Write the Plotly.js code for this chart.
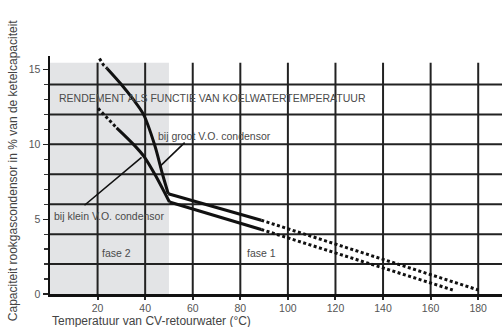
<!DOCTYPE html>
<html>
<head>
<meta charset="utf-8">
<script src="https://cdn.plot.ly/plotly-3.0.1.min.js"></script>
<style>html,body{margin:0;padding:0;background:#fff;}#chart{width:502px;height:327px;}</style>
</head>
<body>
<div id="chart"></div>
<script>
// ---- data ----
const grootDotX = [20.8, 22.5, 24.0];
const grootDotY = [15.73, 15.3, 15.07];
const grootCurveX = [24.0, 30.0, 35.0, 39.3, 43.9, 47.3, 49.7];
const grootCurveY = [15.07, 14.0, 13.0, 12.0, 10.0, 8.0, 6.7];
const grootLineX = [49.7, 88.8];
const grootLineY = [6.7, 4.93];
const grootTailX = [88.8, 180];
const grootTailY = [4.93, 0.27];

const kleinDotX = [20.2, 28.0];
const kleinDotY = [12.4, 11.1];
const kleinCurveX = [28.0, 35.5, 39.7, 44.3, 50.2];
const kleinCurveY = [11.1, 9.93, 9.15, 7.93, 6.15];
const kleinLineX = [50.2, 88.8];
const kleinLineY = [6.15, 4.31];
const kleinTailX = [88.8, 169.3];
const kleinTailY = [4.31, 0.27];

const grootLeaderX = [56.6, 46.0];
const grootLeaderY = [10.11, 8.49];
const kleinLeaderX = [14.5, 38.5];
const kleinLeaderY = [5.93, 9.13];

const xTicks = [20, 40, 60, 80, 100, 120, 140, 160, 180];
const yTicks = [0, 5, 10, 15];
const yGrid = [2, 4, 6, 8, 10, 12, 14];
const phaseBoundary = 50;
const gridTop = 15.45;

const titleText = 'RENDEMENT ALS FUNCTIE VAN KOELWATERTEMPERATUUR';
const grootLabel = 'bij groot V.O. condensor';
const kleinLabel = 'bij klein V.O. condensor';
const fase2Label = 'fase 2';
const fase1Label = 'fase 1';
const xTitle = 'Temperatuur van CV-retourwater (°C)';
const yTitle = 'Capaciteit rookgascondensor in % van de ketelcapaciteit';

// ---- chart ----
const FONT = 'Liberation Sans, Arial, sans-serif';
const solid = {color: '#111', width: 3};
const curve = {color: '#111', width: 3, shape: 'spline', smoothing: 0.9};
const dotted = {color: '#111', width: 3, dash: '3px,2.5px'};
const leader = {color: '#111', width: 1.6};

function tr(x, y, line) {
  return {x: x, y: y, mode: 'lines', line: line, hoverinfo: 'skip', showlegend: false, cliponaxis: false};
}

const traces = [
  tr(grootDotX, grootDotY, dotted),
  tr(grootCurveX, grootCurveY, curve),
  tr(grootLineX, grootLineY, solid),
  tr(grootTailX, grootTailY, dotted),
  tr(kleinDotX, kleinDotY, dotted),
  tr(kleinCurveX, kleinCurveY, curve),
  tr(kleinLineX, kleinLineY, solid),
  tr(kleinTailX, kleinTailY, dotted),
  tr(grootLeaderX, grootLeaderY, leader),
  tr(kleinLeaderX, kleinLeaderY, leader)
];

const shapes = [{
  type: 'rect', xref: 'x', yref: 'y', x0: 0, x1: phaseBoundary, y0: 0, y1: gridTop,
  fillcolor: '#e3e4e6', line: {width: 0}, layer: 'below'
}];
xTicks.forEach(v => shapes.push({
  type: 'line', xref: 'x', yref: 'y', x0: v, x1: v, y0: 0, y1: gridTop,
  line: {color: '#222', width: 2}, layer: 'below'
}));
yGrid.forEach(v => shapes.push({
  type: 'line', xref: 'x', yref: 'y', x0: 0, x1: 190, y0: v, y1: v,
  line: {color: '#222', width: 2}, layer: 'below'
}));

const txt = (text, x, y, anchor, size) => ({
  text: text, x: x, y: y, xref: 'x', yref: 'y', xanchor: anchor, yanchor: 'middle',
  showarrow: false, font: {family: FONT, size: size, color: '#4a4a4a'}
});

const annotations = [
  txt(titleText, 3.0, 13.07, 'left', 10.5),
  txt(grootLabel, 44.6, 10.55, 'left', 10.5),
  txt(kleinLabel, 1.0, 5.2, 'left', 10.5),
  txt(fase2Label, 28, 2.75, 'center', 10.5),
  txt(fase1Label, 89, 2.73, 'center', 10.5),
  {text: xTitle, xref: 'paper', yref: 'paper', x: 0, y: -0.113, xanchor: 'left', yanchor: 'middle',
   showarrow: false, font: {family: FONT, size: 12, color: '#444'}},
  {text: yTitle, xref: 'paper', yref: 'paper', x: -0.082, y: 0.52, xanchor: 'center', yanchor: 'middle',
   textangle: -90, showarrow: false, font: {family: FONT, size: 12, color: '#444'}}
];

const layout = {
  width: 502, height: 327,
  margin: {l: 50, r: 0, t: 56, b: 33},
  paper_bgcolor: '#fff', plot_bgcolor: '#fff',
  font: {family: FONT, size: 10.5, color: '#555'},
  xaxis: {
    range: [0, 190], showgrid: false, zeroline: false,
    showline: true, linewidth: 2.5, linecolor: '#111',
    tickmode: 'array', tickvals: xTicks, ticks: 'outside', ticklen: 3, tickwidth: 2, tickcolor: '#222',
    tickfont: {family: FONT, size: 10.5, color: '#555'}
  },
  yaxis: {
    range: [0, 15.9], showgrid: false, zeroline: false,
    showline: true, linewidth: 2.5, linecolor: '#111',
    tickmode: 'array', tickvals: yTicks, ticks: 'outside', ticklen: 5, tickwidth: 1.2, tickcolor: '#222',
    minor: {dtick: 1, ticks: 'outside', ticklen: 4, tickwidth: 1.2, tickcolor: '#333', showgrid: false},
    tickfont: {family: FONT, size: 10.5, color: '#555'}
  },
  shapes: shapes,
  annotations: annotations
};

Plotly.newPlot('chart', traces, layout, {displayModeBar: false, staticPlot: true});
</script>
</body>
</html>
